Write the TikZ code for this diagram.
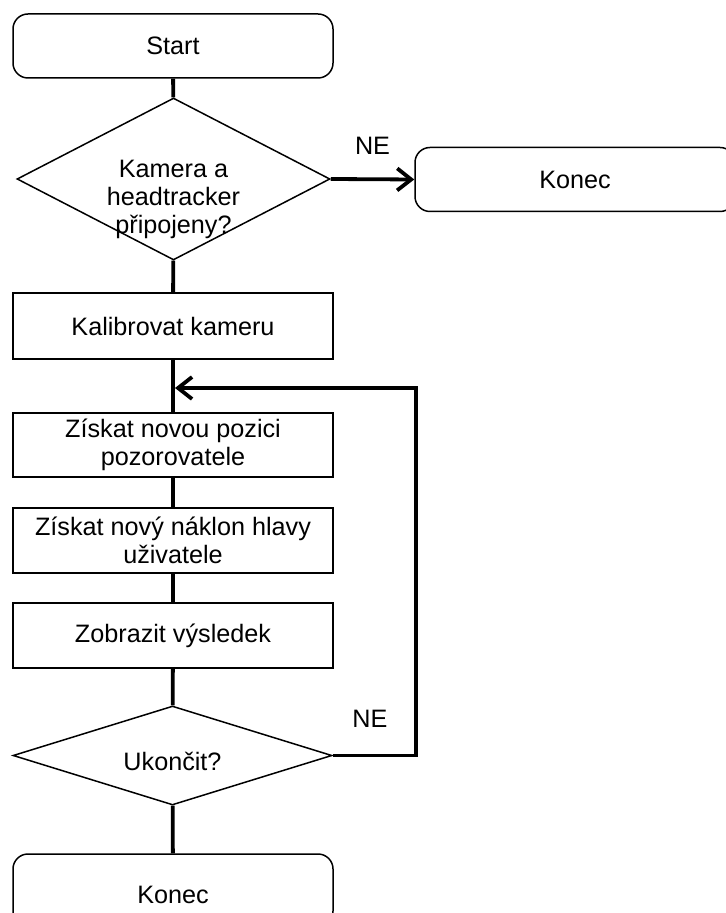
\documentclass[tikz,border=0pt]{standalone}
\usepackage{fontspec}
\setmainfont{Liberation Sans}
\usetikzlibrary{shapes.geometric,arrows.meta}
\tikzset{every node/.style={font=\fontsize{12.6}{14}\selectfont},
	terminal/.style={draw, rounded corners=7.5pt, line width=0.75pt, minimum width=160pt, minimum height=32pt, inner sep=0pt},
	process/.style={draw, line width=0.75pt, minimum width=160pt, minimum height=32.5pt, inner sep=0pt, align=center},
	decision/.style={draw, diamond, line width=0.75pt, inner sep=0pt},
	flow/.style={draw, line width=1.9pt},
	flowarrow/.style={flow, -{Straight Barb[length=7pt,width=11pt,line width=1.9pt]}}}

\begin{document}
\begin{tikzpicture}[x=0.5pt,y=-0.5pt]
		\clip (0,0) rectangle (726,913);
		\useasboundingbox (0,0) rectangle (726,913);
		%		nodes
		\node[terminal] (start) at (173,46){Start};
		\node[decision, minimum width=156.5pt, minimum height=81pt,
			label={[align=center, yshift=-10pt]center:Kamera a\\headtracker\\připojeny?}] (q1) at (173.5,179){};
		\node[terminal] (konec1) at (575,179.5){Konec};
		\node[process, minimum height=33pt] (kalib) at (173,326){Kalibrovat kameru};
		\node[process, minimum height=32pt] (pozice) at (173,445){Získat novou pozici\\pozorovatele};
		\node[process] (naklon) at (173,540.5){Získat nový náklon hlavy\\uživatele};
		\node[process] (zobraz) at (173,635.5){Zobrazit výsledek};
		\node[decision, minimum width=159.5pt, minimum height=49.5pt,
			label={[yshift=-3pt]center:Ukončit?}] (q2) at (172.5,755.5){};
		\node[terminal, minimum height=36pt] (konec2) at (173,890){};
		\node (konec2text) at (173,895){Konec};
		\coordinate (back) at (416,388);
		\coordinate (join) at (175,388);
		%		connectors
		\draw[flow] (start) -- (q1);
		\draw[flowarrow] (q1.east) to node[above=8pt]{NE} (konec1.west);
		\draw[flow] (q1) -- (kalib);
		\draw[flow] (kalib) -- (pozice);
		\draw[flow] (pozice) -- (naklon);
		\draw[flow] (naklon) -- (zobraz);
		\draw[flow] (zobraz) -- (q2);
		\draw[flow] (q2) -- (konec2);
		\draw[flowarrow] (q2.east) -| node[pos=0.55, left=10pt]{NE} (back) -- (join);
		\end{tikzpicture}
\end{document}
